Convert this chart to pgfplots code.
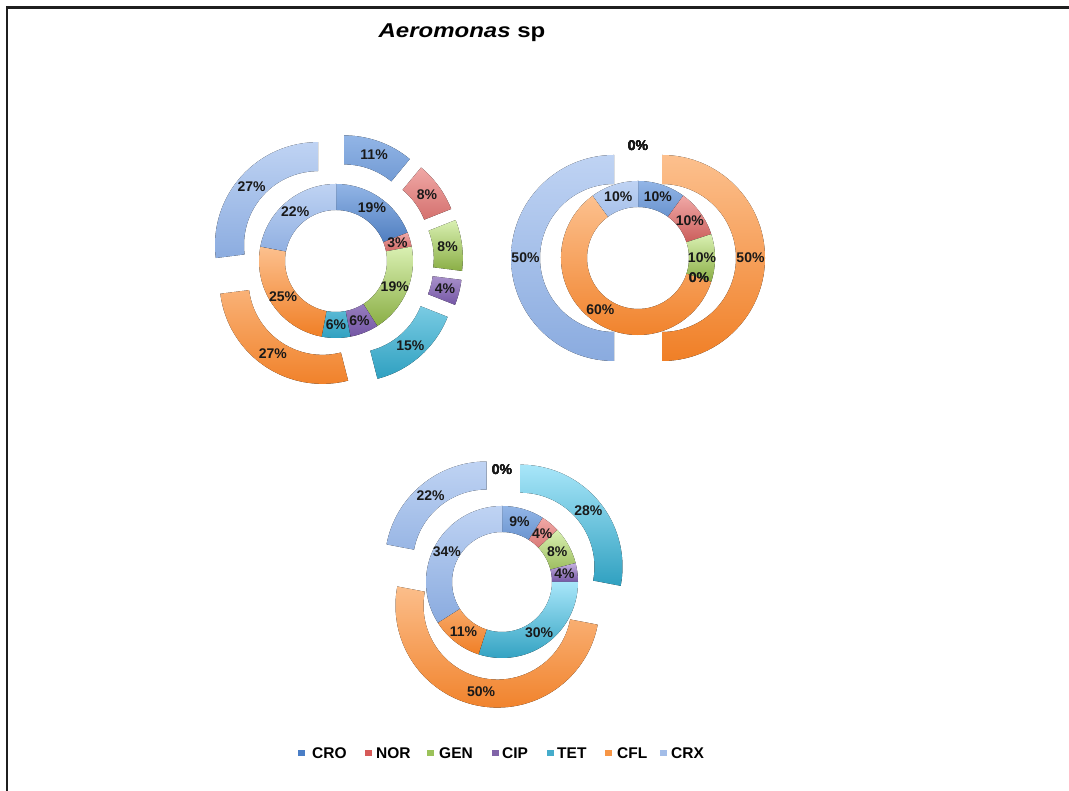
\documentclass[border=0pt]{standalone}
\usepackage{pgfplots}
\pgfplotsset{compat=1.18}
\usepackage{pgfplotstable}
\usepackage{fontspec}
\setmainfont{Liberation Sans}
\newfontfamily\titlefont[FakeStretch=1.2]{Liberation Sans}

% gradient colours (light top, dark bottom) for each antibiotic
\definecolor{CROL}{HTML}{92B5E6}\definecolor{CROD}{HTML}{3B6DB4}
\definecolor{NORL}{HTML}{F0A8A6}\definecolor{NORD}{HTML}{BE4542}
\definecolor{GENL}{HTML}{D9F0B2}\definecolor{GEND}{HTML}{8AAE45}
\definecolor{CIPL}{HTML}{C4B0DF}\definecolor{CIPD}{HTML}{7456A4}
\definecolor{TETL}{HTML}{A8E6F9}\definecolor{TETD}{HTML}{2FA0C0}
\definecolor{CFLL}{HTML}{FCC08E}\definecolor{CFLD}{HTML}{F07F26}
\definecolor{CRXL}{HTML}{BFD3F3}\definecolor{CRXD}{HTML}{8AABDF}
% legend swatches
\definecolor{CROleg}{HTML}{4A7EC6}
\definecolor{NORleg}{HTML}{D65A58}
\definecolor{GENleg}{HTML}{9BC25A}
\definecolor{CIPleg}{HTML}{8064A8}
\definecolor{TETleg}{HTML}{45ACCB}
\definecolor{CFLleg}{HTML}{F79646}
\definecolor{CRXleg}{HTML}{A3BDE8}

% percentages: inner ring / outer ring
\pgfplotstableread{
class inner outer
CRO 19 11
NOR  3  8
GEN 19  8
CIP  6  4
TET  6 15
CFL 25 27
CRX 22 27
}\donutA
\pgfplotstableread{
class inner outer
CRO 10  0
NOR 10  0
GEN 10  0
CIP  0  0
TET  0  0
CFL 60 50
CRX 10 50
}\donutB
\pgfplotstableread{
class inner outer
CRO  9  0
NOR  4  0
GEN  8  0
CIP  4  0
TET 30 28
CFL 11 50
CRX 34 22
}\donutC

\newcommand{\lblfont}{\fontsize{14}{16}\selectfont\bfseries}
\newcommand{\legfont}{\fontsize{15.5}{18}\selectfont\bfseries}

% #1 table, #2 column, #3 cx, #4 cy, #5 inner radius, #6 outer radius, #7 explosion
\newcommand{\drawring}[7]{%
  \def\cum{0}%
  \pgfmathsetmacro\rM{(#5+#6)/2}%
  \pgfmathsetmacro\dr{#5-#6}%
  \pgfplotsforeachungrouped \i in {0,...,6}{%
    \pgfplotstablegetelem{\i}{#2}\of{#1}\let\val\pgfplotsretval
    \pgfplotstablegetelem{\i}{class}\of{#1}\let\cls\pgfplotsretval
    \pgfmathsetmacro\aA{90-3.6*\cum}%
    \pgfmathsetmacro\aB{90-3.6*(\cum+\val)}%
    \pgfmathsetmacro\aM{(\aA+\aB)/2}%
    \ifdim\val pt>0pt
      \fill[top color=\cls L, bottom color=\cls D]
        (axis cs:#3,#4) ++(\aM:#7pt) ++(\aA:#6pt)
        arc[start angle=\aA, end angle=\aB, radius=#6pt]
        -- ++(\aB:\dr pt)
        arc[start angle=\aB, end angle=\aA, radius=#5pt] -- cycle;
    \fi
    \pgfmathsetmacro\cum{\cum+\val}%
  }%
  \def\cum{0}%
  \pgfplotsforeachungrouped \i in {0,...,6}{%
    \pgfplotstablegetelem{\i}{#2}\of{#1}\let\val\pgfplotsretval
    \pgfmathsetmacro\aA{90-3.6*\cum}%
    \pgfmathsetmacro\aB{90-3.6*(\cum+\val)}%
    \pgfmathsetmacro\aM{(\aA+\aB)/2}%
    \path (axis cs:#3,#4) ++(\aM:#7pt) ++(\aM:\rM pt)
      node[font=\lblfont, text=black!90, inner sep=0pt] {\val\%};
    \pgfmathsetmacro\cum{\cum+\val}%
  }%
}

\begin{document}
\begin{tikzpicture}
\useasboundingbox (0,0) rectangle (1069pt,791pt);
\begin{axis}[
  x=1pt, y=1pt,
  xmin=0, xmax=1069, ymin=0, ymax=791,
  scale only axis, hide axis,
  at={(0,0)}, anchor=south west,
]
\pgfplotsextra{%
  % frame
  \draw[line width=2.6pt, black!88] (axis cs:7,0) -- (axis cs:7,783.5) -- (axis cs:1069,783.5);
  % title
  \node[anchor=base, inner sep=0pt, font=\titlefont\fontsize{20}{24}\selectfont\bfseries]
    at (axis cs:462,753) {\textit{Aeromonas} sp};
  % donuts
  \drawring{\donutA}{inner}{336}{530}{51}{77}{0}
  \drawring{\donutA}{outer}{336}{530}{74}{103}{24}
  \drawring{\donutB}{inner}{638}{533}{51}{77}{0}
  \drawring{\donutB}{outer}{638}{533}{74}{103}{24}
  \drawring{\donutC}{inner}{502}{209}{50}{76}{0}
  \drawring{\donutC}{outer}{502}{209}{74}{102}{24}
  % legend
  \foreach \name/\sx/\tx in {CRO/298/312, NOR/365/376, GEN/427/439, CIP/492/502, TET/547/557, CFL/605/617, CRX/660/671}{
    \fill[\name leg] (axis cs:\sx,35) rectangle ++(7pt,5.5pt);
    \node[anchor=base west, inner sep=0pt, font=\legfont] at (axis cs:\tx,32) {\name};
  }
}
\end{axis}
\end{tikzpicture}
\end{document}
